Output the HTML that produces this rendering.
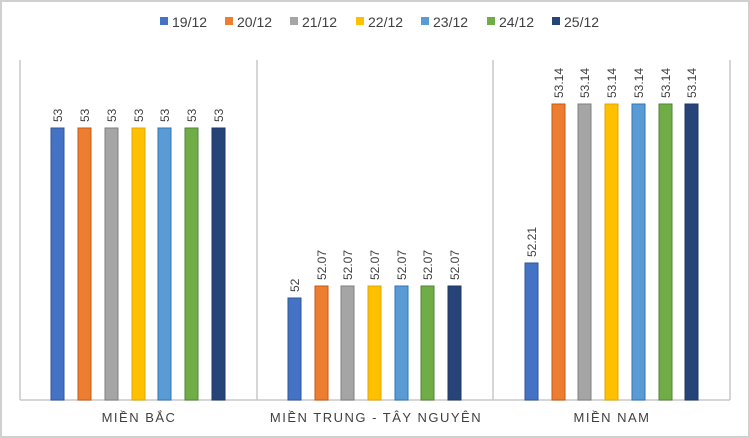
<!DOCTYPE html>
<html><head><meta charset="utf-8"><style>
html,body{margin:0;padding:0;background:#fff;}
svg{display:block;}
text{font-family:"Liberation Sans",sans-serif;fill:#404040;}
</style></head><body>
<svg width="750" height="438" viewBox="0 0 750 438" xmlns="http://www.w3.org/2000/svg">
<rect x="1" y="1" width="748" height="436" fill="#fff" stroke="#d0d0d0" stroke-width="2"/>
<g font-size="14">
<rect x="160" y="17" width="8" height="8" fill="#4472C4"/><text x="172" y="27">19/12</text>
<rect x="225" y="17" width="8" height="8" fill="#ED7D31"/><text x="237" y="27">20/12</text>
<rect x="290" y="17" width="8" height="8" fill="#A5A5A5"/><text x="302" y="27">21/12</text>
<rect x="356" y="17" width="8" height="8" fill="#FFC000"/><text x="368" y="27">22/12</text>
<rect x="421" y="17" width="8" height="8" fill="#5B9BD5"/><text x="433" y="27">23/12</text>
<rect x="487" y="17" width="8" height="8" fill="#70AD47"/><text x="499" y="27">24/12</text>
<rect x="552" y="17" width="8" height="8" fill="#264478"/><text x="564" y="27">25/12</text>
</g>
<g stroke="#c8c8c8" stroke-width="1.5">
<line x1="20" y1="60" x2="20" y2="400"/>
<line x1="257" y1="60" x2="257" y2="400"/>
<line x1="493" y1="60" x2="493" y2="400"/>
<line x1="730" y1="60" x2="730" y2="400"/>
<line x1="20" y1="400" x2="730" y2="400"/>
</g>
<g stroke-width="1">
<rect x="51" y="128" width="13" height="272" fill="#4472C4" stroke="#2F5597"/>
<rect x="78" y="128" width="13" height="272" fill="#ED7D31" stroke="#C55A11"/>
<rect x="105" y="128" width="13" height="272" fill="#A5A5A5" stroke="#7F7F7F"/>
<rect x="132" y="128" width="13" height="272" fill="#FFC000" stroke="#E0A800"/>
<rect x="158" y="128" width="13" height="272" fill="#5B9BD5" stroke="#2E75B6"/>
<rect x="185" y="128" width="13" height="272" fill="#70AD47" stroke="#548235"/>
<rect x="212" y="128" width="13" height="272" fill="#264478" stroke="#1F3864"/>

<rect x="288" y="298" width="13" height="102" fill="#4472C4" stroke="#2F5597"/>
<rect x="315" y="286" width="13" height="114" fill="#ED7D31" stroke="#C55A11"/>
<rect x="341" y="286" width="13" height="114" fill="#A5A5A5" stroke="#7F7F7F"/>
<rect x="368" y="286" width="13" height="114" fill="#FFC000" stroke="#E0A800"/>
<rect x="395" y="286" width="13" height="114" fill="#5B9BD5" stroke="#2E75B6"/>
<rect x="421" y="286" width="13" height="114" fill="#70AD47" stroke="#548235"/>
<rect x="448" y="286" width="13" height="114" fill="#264478" stroke="#1F3864"/>

<rect x="525" y="263" width="13" height="137" fill="#4472C4" stroke="#2F5597"/>
<rect x="552" y="104" width="13" height="296" fill="#ED7D31" stroke="#C55A11"/>
<rect x="578" y="104" width="13" height="296" fill="#A5A5A5" stroke="#7F7F7F"/>
<rect x="605" y="104" width="13" height="296" fill="#FFC000" stroke="#E0A800"/>
<rect x="632" y="104" width="13" height="296" fill="#5B9BD5" stroke="#2E75B6"/>
<rect x="659" y="104" width="13" height="296" fill="#70AD47" stroke="#548235"/>
<rect x="685" y="104" width="13" height="296" fill="#264478" stroke="#1F3864"/>
</g>
<g font-size="12">
<text transform="translate(62,122) rotate(-90)">53</text>
<text transform="translate(89,122) rotate(-90)">53</text>
<text transform="translate(116,122) rotate(-90)">53</text>
<text transform="translate(143,122) rotate(-90)">53</text>
<text transform="translate(169,122) rotate(-90)">53</text>
<text transform="translate(196,122) rotate(-90)">53</text>
<text transform="translate(223,122) rotate(-90)">53</text>

<text transform="translate(299,292) rotate(-90)">52</text>
<text transform="translate(326,280) rotate(-90)">52.07</text>
<text transform="translate(352,280) rotate(-90)">52.07</text>
<text transform="translate(379,280) rotate(-90)">52.07</text>
<text transform="translate(406,280) rotate(-90)">52.07</text>
<text transform="translate(432,280) rotate(-90)">52.07</text>
<text transform="translate(459,280) rotate(-90)">52.07</text>

<text transform="translate(536,257) rotate(-90)">52.21</text>
<text transform="translate(563,98) rotate(-90)">53.14</text>
<text transform="translate(589,98) rotate(-90)">53.14</text>
<text transform="translate(616,98) rotate(-90)">53.14</text>
<text transform="translate(643,98) rotate(-90)">53.14</text>
<text transform="translate(670,98) rotate(-90)">53.14</text>
<text transform="translate(696,98) rotate(-90)">53.14</text>
</g>
<g font-size="13" text-anchor="middle" letter-spacing="1.5">
<text x="139" y="422">MIỀN BẮC</text>
<text x="376" y="422">MIỀN TRUNG - TÂY NGUYÊN</text>
<text x="612" y="422">MIỀN NAM</text>
</g>
</svg>
</body></html>
